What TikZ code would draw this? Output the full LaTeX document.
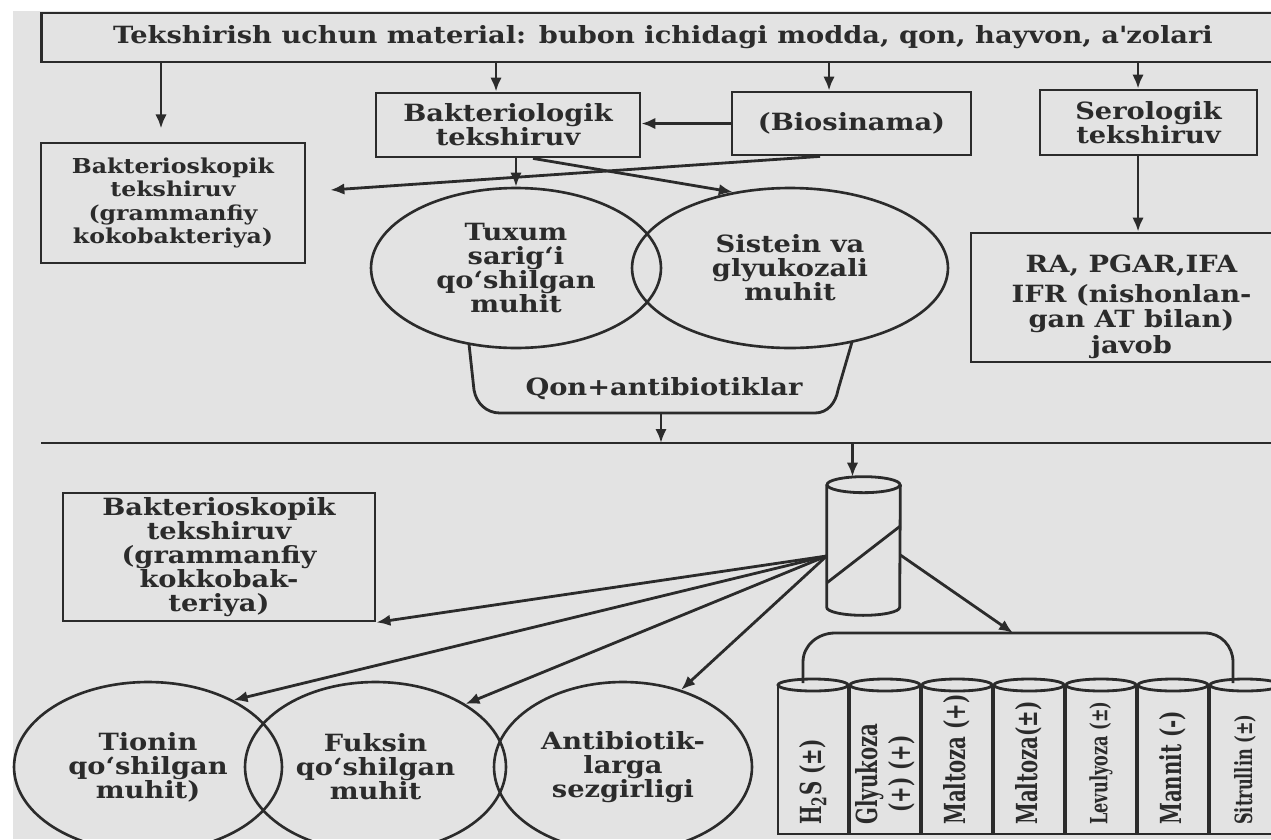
\documentclass[tikz,border=0pt]{standalone}
\usepackage{fontspec}
\setmainfont{DejaVu Serif}[FakeStretch=1.15]
\newfontfamily\tubefont[FakeStretch=0.68]{DejaVu Serif}
\usepackage{tikz}
\usetikzlibrary{arrows.meta,shapes.geometric}
\definecolor{paper}{HTML}{E3E3E3}
\definecolor{ink}{HTML}{2B2B2B}
\newcommand\mainlbl{\bfseries\fontsize{13.5}{13.6}\selectfont}

\begin{document}
\begin{tikzpicture}[x=0.02cm,y=-0.02cm,
  >={Latex[length=2.8mm,width=2.3mm]},
  wire/.style={draw=ink,line width=1.6pt},
  link/.style={draw=ink,line width=1.6pt,->},
  box/.style={draw=ink,line width=1.6pt,text=ink,font=\mainlbl,align=center,inner sep=0pt},
  oval/.style={ellipse,draw=ink,line width=1.5pt,text=ink,font=\mainlbl,align=center,inner sep=0pt},
  tubelbl/.style={text=ink,font=\tubefont\bfseries\fontsize{16.5}{19}\selectfont,align=center,inner sep=0pt,rotate=90,anchor=west}]
  \useasboundingbox (0,0) rectangle (1271,839);
  \clip (0,0) rectangle (1271,839);
  \fill[white] (0,0) rectangle (1271,839);
  \fill[paper] (13,11) rectangle (1271,839);

  % upper half
  \node[box,minimum width=25.08cm,minimum height=0.98cm] (mat) at (668,37.5)
    {\hspace*{-0.2cm}Tekshirish uchun material: bubon ichidagi modda, qon, hayvon, a\textquotesingle zolari};
  \node[box,minimum width=5.28cm,minimum height=1.28cm] (blog) at (508,125) {Bakteriologik\\tekshiruv};
  \node[box,minimum width=4.78cm,minimum height=1.26cm] (bio) at (851.5,123.5) {(Biosinama)};
  \node[box,minimum width=4.34cm,minimum height=1.3cm] (sero) at (1148.5,122.5) {Serologik\\tekshiruv};
  \node[box,minimum width=5.28cm,minimum height=2.4cm,font=\bfseries\fontsize{11.7}{13.2}\selectfont] (bs1) at (173,203)
    {Bakterioskopik\\tekshiruv\\(grammanfiy\\kokobakteriya)};
  \node[box,minimum width=6.42cm,minimum height=2.58cm] (ra) at (1131.5,297.5) {};
  \node[text=ink,font=\bfseries\fontsize{13.5}{14.4}\selectfont,align=center] (ratxt) at ([yshift=-0.18cm]ra.center)
    {RA, PGAR,IFA\\[3pt]IFR (nishonlan-\\gan AT bilan)\\javob};
  \node[oval,minimum width=5.8cm,minimum height=3.2cm] (tux) at (516,268) {Tuxum\\sarig‘i\\qo‘shilgan\\muhit};
  \node[oval,minimum width=6.32cm,minimum height=3.2cm] (sis) at (790,268) {Sistein va\\glyukozali\\muhit};

  \draw[link] ([xshift=-0.24cm]bs1.north |- mat.south) -- ++(0,65);
  \draw[link] ([xshift=-0.24cm]blog.north |- mat.south) -- ([xshift=-0.24cm]blog.north);
  \draw[link] ([xshift=-0.45cm]bio.north |- mat.south) -- ([xshift=-0.45cm]bio.north);
  \draw[link] ([xshift=-0.21cm]sero.north |- mat.south) -- ([xshift=-0.21cm]sero.north);
  \draw[link] ([xshift=-0.21cm]sero.south) -- ([xshift=-0.21cm]sero.south |- ra.north);
  \draw[link] (bio.west) -- (blog.east |- bio.west);
  \draw[link] (tux.north |- blog.south) -- (tux.north);
  \draw[link] ([xshift=-0.63cm]bio.south) -- ([xshift=0.48cm,yshift=0.26cm]bs1.east);
  \draw[link] ([xshift=0.5cm]blog.south) -- (sis.127);

  \draw[wire] (469,344) -- (474,390) to[out=-80,in=180] (500,413) -- (815,413) to[out=0,in=-100] (838,390) -- (852,342);
  \node[text=ink,font=\mainlbl] (qon) at (664,389) {Qon+antibiotiklar};
  \coordinate (qb) at (661,413);
  \coordinate (divl) at (41,443);
  \coordinate (divr) at (1290,443);
  \draw[wire] (divl) -- (divr);
  \draw[link] (qb) -- (qb |- divl);

  % lower half
  \node[minimum width=1.46cm,minimum height=2.76cm,inner sep=0pt] (prob) at (863.5,546) {};
  \draw[wire] ([yshift=-0.16cm]prob.north west) -- ([yshift=0.16cm]prob.south west)
    arc[start angle=180,end angle=360,x radius=0.73cm,y radius=0.16cm] -- ([yshift=-0.16cm]prob.north east);
  \draw[wire] ([yshift=-0.16cm]prob.north) ellipse [x radius=0.73cm,y radius=0.16cm];
  \draw[wire] ([yshift=0.4cm]prob.east) -- ([yshift=-0.74cm]prob.west);
  \draw[link] ([xshift=-0.22cm]prob.north |- divl) -- ([xshift=-0.22cm]prob.north);

  \node[box,minimum width=6.24cm,minimum height=2.56cm] (bs2) at (219,557)
    {Bakterioskopik\\tekshiruv\\(grammanfiy\\kokkobak-\\teriya)};
  \node[oval,minimum width=5.36cm,minimum height=3.4cm] (tio) at (148,767) {Tionin\\qo‘shilgan\\muhit)};
  \node[oval,minimum width=5.22cm,minimum height=3.4cm] (fuk) at (375.5,767) {Fuksin\\qo‘shilgan\\muhit};
  \node[oval,minimum width=5.16cm,minimum height=3.4cm] (ant) at (623,767) {Antibiotik-\\larga\\sezgirligi};

  \coordinate (fan) at ([yshift=-0.2cm]prob.west);
  \draw[link] (fan) -- (bs2.south east);
  \draw[link] (fan) -- (tio.38);
  \draw[link] (fan) -- (fuk.35);
  \draw[link] (fan) -- (ant.53);

  \coordinate (brk) at (1013,633);
  \draw[link] ([yshift=-0.18cm]prob.east) -- (brk);
  \draw[wire] (803,683) -- (803,662) to[out=90,in=180] (835,633) -- (1205,633) to[out=0,in=90] (1233,662) -- (1233,683);

  \foreach \lab [count=\i from 0] in {{H\textsubscript{2}S (±)},{Glyukoza\\(+) (+)},{Maltoza (+)},{Maltoza(±)},
      {\fontsize{13.5}{13.5}\selectfont Levulyoza (±)},{Mannit (-)},{\fontsize{13.5}{13.5}\selectfont Sitrullin (±)}} {
    \pgfmathsetmacro\xl{778+72*\i}
    \draw[wire] (\xl,685) -- (\xl,834) -- (\xl+70,834) -- (\xl+70,685);
    \draw[wire] (\xl+35,685) ellipse [x radius=0.7cm,y radius=0.12cm];
    \node[tubelbl] (t\i) at (\xl+35,825) {\lab};
  }
\end{tikzpicture}
\end{document}
